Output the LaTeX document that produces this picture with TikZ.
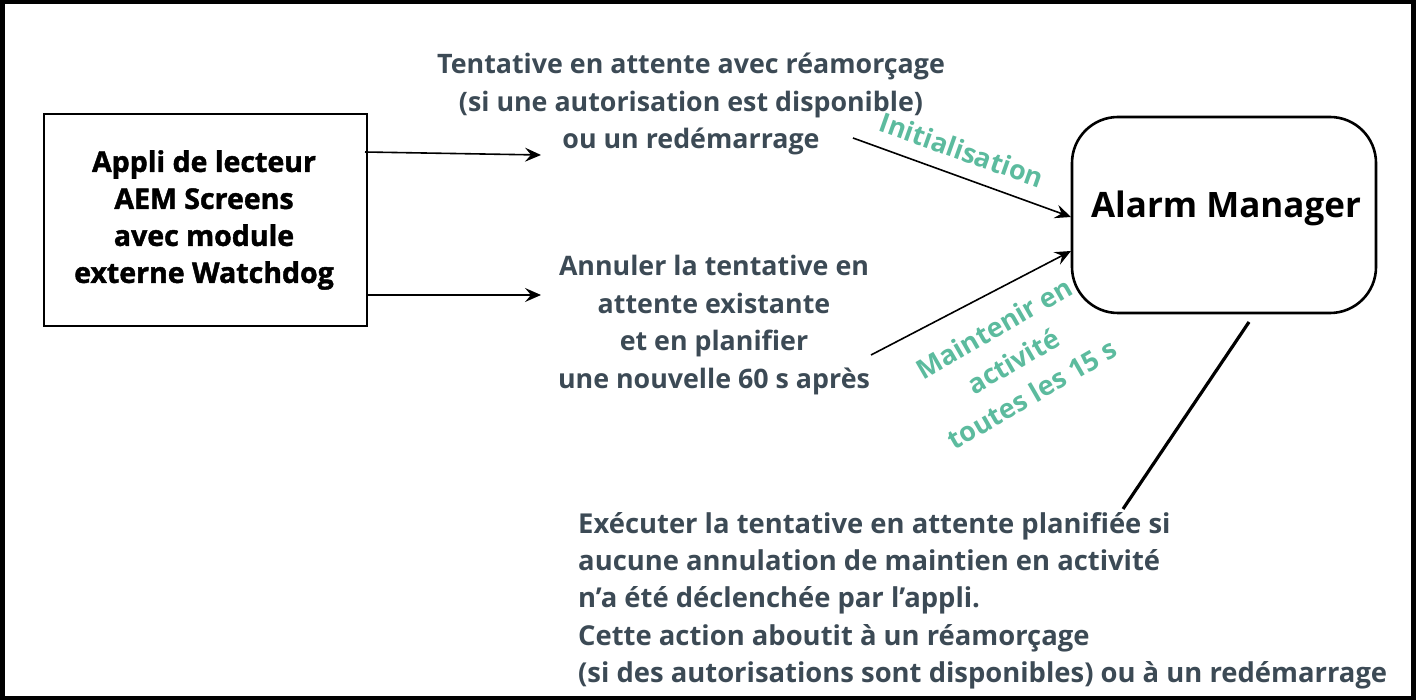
\documentclass[tikz,border=0pt]{standalone}
\usepackage{fontspec}
\setmainfont{Open Sans}
\newfontfamily\heavyfont{Open Sans}[BoldFeatures={FakeBold=1.5}]
\usetikzlibrary{arrows.meta}
\definecolor{txtgrey}{HTML}{3C4A55}
\definecolor{teal}{HTML}{5CBB9E}
\tikzset{
  conn/.style={line width=1.6pt,-{Stealth[length=16pt,width=14pt,inset=6pt]}},
  plain/.style={line width=3.2pt},
  gtext/.style={text=txtgrey,font=\bfseries\fontsize{26.8}{37.5}\selectfont,align=center,inner sep=0pt},
  ltext/.style={text=teal,font=\bfseries\fontsize{27}{38}\selectfont,align=center,inner sep=0pt},
}
\begin{document}
\begin{tikzpicture}[x=1pt,y=-1pt]
\useasboundingbox (0,0) rectangle (1416,700);
\draw[line width=4.5pt] (2.25,2.25) rectangle (1413.5,697.75);
% left box
\draw[line width=2.6pt] (44,114) rectangle (367,326);
\node[inner sep=0pt,align=center,font=\heavyfont\bfseries\fontsize{28.5}{37}\selectfont] (appli) at (204,220)
  {Appli de lecteur\\AEM Screens\\avec module\\externe Watchdog};
% alarm manager
\draw[line width=2.6pt,rounded corners=46pt] (1072,117) rectangle (1376,313);
\node[inner sep=0pt,font=\bfseries\fontsize{35}{42}\selectfont] (alarm) at (1226,208) {Alarm Manager};
% texts
\node[gtext] (tent) at (691,104) {Tentative en attente avec réamorçage\\(si une autorisation est disponible)\\ou un redémarrage};
\node[gtext] (annul) at (714,325) {Annuler la tentative en\\attente existante\\et en planifier\\une nouvelle 60 s après};
\node[gtext,align=left,anchor=north west,font=\bfseries\fontsize{27.4}{37.3}\selectfont] (exec) at (578,512) {Exécuter la tentative en attente planifiée si\\aucune annulation de maintien en activité\\n’a été déclenchée par l’appli.\\Cette action aboutit à un réamorçage\\(si des autorisations sont disponibles) ou à un redémarrage};
% coordinates
\coordinate (a1s) at (365,152);
\coordinate (a1e) at (541,155);
\coordinate (a2s) at (368,295);
\coordinate (a2e) at (541,295);
\coordinate (i1s) at (853,138);
\coordinate (i1e) at (1071,217);
\coordinate (m1s) at (871,355);
\coordinate (m1e) at (1071,251);
\coordinate (l1s) at (1249,322);
\coordinate (l1e) at (1123,509);
\draw[conn] (a1s) -- (a1e);
\draw[conn] (a2s) -- (a2e);
\draw[conn] (i1s) -- (i1e);
\draw[conn] (m1s) -- (m1e);
\draw[plain] (l1s) -- (l1e);
% labels
\node[ltext,rotate=-19.5] (init) at (962,150) {Initialisation};
\node[ltext,rotate=30] (maint) at (1013,361) {Maintenir en\\activité\\toutes les 15 s};
\end{tikzpicture}
\end{document}
